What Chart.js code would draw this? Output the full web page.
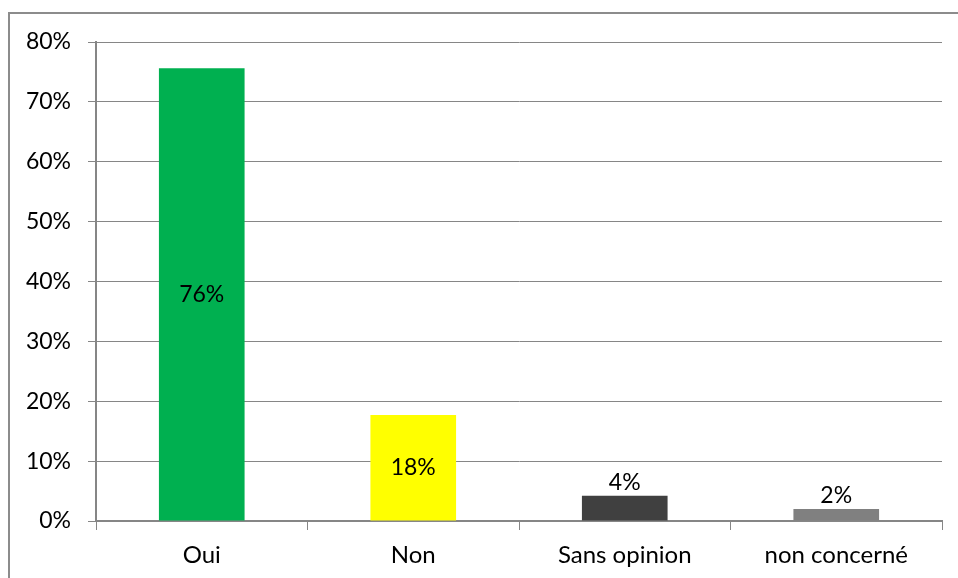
<!DOCTYPE html>
<html>
<head>
<meta charset="utf-8">
<script src="https://cdn.jsdelivr.net/npm/chart.js@4"></script>
<style>
  html, body { margin: 0; padding: 0; background: #fff; }
  #wrap { width: 958px; height: 578px; position: relative; }
</style>
</head>
<body>
<div id="wrap"><canvas id="chart"></canvas></div>
<script>
// Data
const categories = ['Oui', 'Non', 'Sans opinion', 'non concerné'];
const shares = [75.6, 17.7, 4.2, 2.0];
const barColors = ['#00B050', '#FFFF00', '#404040', '#808080'];
const yTicks = [0, 10, 20, 30, 40, 50, 60, 70, 80];

const FONT = 'Lato, "Open Sans", sans-serif';

// Outer frame like the spreadsheet chart border
const framePlugin = {
    id: 'frame',
    beforeDraw(chart) {
        const ctx = chart.ctx;
        ctx.save();
        ctx.fillStyle = '#fff';
        ctx.fillRect(0, 0, chart.width, chart.height);
        ctx.strokeStyle = '#8c8c8c';
        ctx.lineWidth = 2;
        ctx.strokeRect(9, 13, chart.width + 10, chart.height + 10);
        ctx.restore();
    }
};

// Percent labels: inside tall bars, above short ones
const valueLabels = {
    id: 'valueLabels',
    afterDatasetsDraw(chart) {
        const ctx = chart.ctx;
        const meta = chart.getDatasetMeta(0);
        ctx.save();
        ctx.font = '23px ' + FONT;
        ctx.fillStyle = '#000';
        ctx.textAlign = 'center';
        meta.data.forEach((bar, i) => {
            const txt = Math.round(shares[i]) + '%';
            const h = bar.base - bar.y;
            if (h > 50) {
                ctx.textBaseline = 'middle';
                ctx.fillText(txt, bar.x, bar.y + h / 2);
            } else {
                ctx.textBaseline = 'bottom';
                ctx.fillText(txt, bar.x, bar.y - 2);
            }
        });
        ctx.restore();
    }
};

new Chart(document.getElementById('chart'), {
    type: 'bar',
    data: {
        labels: categories,
        datasets: [{
            data: shares,
            backgroundColor: barColors,
            borderWidth: 0,
            categoryPercentage: 1,
            barPercentage: 0.405
        }]
    },
    options: {
        responsive: true,
        maintainAspectRatio: false,
        animation: false,
        devicePixelRatio: 1,
        layout: { padding: { left: 0, right: 16, top: 42, bottom: 0 } },
        plugins: { legend: { display: false }, tooltip: { enabled: false } },
        scales: {
            y: {
                min: 0,
                max: 80,
                afterBuildTicks: axis => { axis.ticks = yTicks.map(v => ({ value: v })); },
                afterFit: axis => { axis.width = 96; },
                ticks: {
                    padding: 17,
                    color: '#000',
                    font: { family: FONT, size: 23 },
                    callback: v => v + '%'
                },
                grid: { color: '#868686', lineWidth: 1, tickLength: 8 },
                border: { color: '#868686', width: 2 }
            },
            x: {
                afterFit: axis => { axis.height = 57; },
                ticks: {
                    padding: 11,
                    color: '#000',
                    font: { family: FONT, size: 24 }
                },
                grid: { drawOnChartArea: false, color: '#868686', tickLength: 9 },
                border: { color: '#868686', width: 2 }
            }
        }
    },
    plugins: [framePlugin, valueLabels]
});
</script>
</body>
</html>
